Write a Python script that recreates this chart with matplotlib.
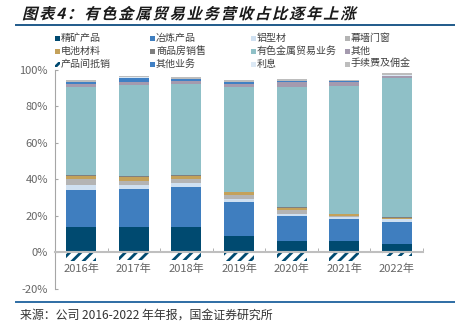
import matplotlib
matplotlib.use("Agg")
import matplotlib.pyplot as plt
import numpy as np
from matplotlib.patches import Rectangle, PathPatch
from matplotlib.lines import Line2D
from matplotlib.textpath import TextPath, text_to_path
from matplotlib.font_manager import FontProperties
from matplotlib.transforms import Affine2D

plt.rcParams["font.family"] = ["Noto Sans CJK SC", "DejaVu Sans"]
plt.rcParams["hatch.linewidth"] = 2.0

W, H = 456, 331

# data (% of revenue)
years = ["2016年", "2017年", "2018年", "2019年", "2020年", "2021年", "2022年"]
jingkuang = [13.7, 14.2, 14.2, 9.3, 6.4, 6.4, 4.7]        # 精矿产品
yelian = [20.8, 20.8, 21.5, 18.2, 13.8, 12.0, 12.2]       # 冶炼产品
lvxingcai = [2.5, 2.0, 2.4, 1.8, 0.9, 1.3, 1.3]           # 铝型材
muqiang = [3.3, 2.4, 2.2, 2.4, 2.2, 0.5, 0.3]             # 幕墙门窗
dianchi = [1.5, 2.2, 1.8, 1.5, 1.3, 0.9, 0.6]             # 电池材料
shangpinfang = [0.5, 0.3, 0.3, 0.2, 0.2, 0.1, 0.1]        # 商品房销售
maoyi = [48.2, 49.8, 50.0, 57.4, 65.8, 70.0, 76.3]        # 有色金属贸易业务
qita = [2.0, 1.5, 1.6, 1.8, 2.7, 2.0, 1.1]                # 其他
qita_yewu = [0.7, 2.5, 1.1, 0.7, 0.5, 0.5, 0.3]           # 其他业务
lixi = [0.3, 0.2, 0.2, 0.2, 0.2, 0.2, 0.2]                # 利息
shouxufei = [0.9, 0.9, 1.0, 0.8, 0.8, 0.8, 1.2]           # 手续费及佣金
dixiao = [-4.5, -4.0, -4.0, -4.5, -4.5, -4.5, -2.0]       # 产品间抵销

NAVY = "#004A70"
stack = [
    ("精矿产品", jingkuang, NAVY),
    ("冶炼产品", yelian, "#3F7EBF"),
    ("铝型材", lvxingcai, "#CFE0F1"),
    ("幕墙门窗", muqiang, "#B4B4B4"),
    ("电池材料", dianchi, "#C4A15A"),
    ("商品房销售", shangpinfang, "#7F7F7F"),
    ("有色金属贸易业务", maoyi, "#8FC0C7"),
    ("其他", qita, "#A49AAE"),
    ("其他业务", qita_yewu, "#4080C4"),
    ("利息", lixi, "#DCE9F5"),
    ("手续费及佣金", shouxufei, "#BDBDBD"),
]

legend_order = ["精矿产品", "冶炼产品", "铝型材", "幕墙门窗",
                "电池材料", "商品房销售", "有色金属贸易业务", "其他",
                "产品间抵销", "其他业务", "利息", "手续费及佣金"]

fig = plt.figure(figsize=(W / 100, H / 100), dpi=100)
ax = fig.add_axes([55 / W, 1 - 289 / H, (423 - 55) / W, (289 - 70) / H])

x = np.arange(len(years))
bw = 0.57
bottom = np.zeros(len(years))
for name, vals, col in stack:
    ax.bar(x, vals, bw, bottom=bottom, color=col, linewidth=0)
    bottom += np.array(vals)
ax.bar(x, dixiao, bw, color="white", edgecolor=NAVY, hatch="///", linewidth=0)

ax.set_xlim(-0.5, len(years) - 0.5)
ax.set_ylim(-20, 100)
ax.set_yticks(range(-20, 101, 20))
ax.set_yticklabels([f"{v}%" for v in range(-20, 101, 20)])
ax.set_xticks(x)
ax.set_xticklabels(years)
ax.set_xticks(np.arange(-0.5, len(years), 1.0), minor=True)
ax.spines["bottom"].set_position(("data", 0))
ax.spines["bottom"].set_color("#BFBFBF")
ax.spines["bottom"].set_linewidth(1.5)
ax.spines["left"].set_color("#A6A6A6")
ax.spines["left"].set_linewidth(0.8)
ax.spines["top"].set_visible(False)
ax.spines["right"].set_visible(False)
ax.tick_params(axis="x", which="major", length=0, pad=8, labelsize=8, labelcolor="#666666")
ax.tick_params(axis="x", which="minor", length=3, direction="in", color="#A6A6A6")
ax.tick_params(axis="y", length=2, direction="in", color="#A6A6A6", labelsize=8,
               labelcolor="#666666", pad=5)

# legend, drawn by hand to keep equal column spacing
colors = {name: col for name, _, col in stack}
col_x = [55, 150, 251, 345]
row_y = [38, 51, 64]
for i, name in enumerate(legend_order):
    cx, cy = col_x[i % 4], row_y[i // 4]
    s = 5
    if name == "产品间抵销":
        rect = Rectangle(((cx) / W, 1 - (cy + s / 2) / H), s / W, s / H,
                         transform=fig.transFigure, facecolor="white",
                         edgecolor=NAVY, hatch="///", linewidth=0)
    else:
        rect = Rectangle(((cx) / W, 1 - (cy + s / 2) / H), s / W, s / H,
                         transform=fig.transFigure, facecolor=colors[name], linewidth=0)
    fig.add_artist(rect)
    fig.text((cx + 6) / W, 1 - cy / H, name, fontsize=7.2, color="#404040",
             ha="left", va="center")

# title, slanted with spaced characters
title = "图表4：有色金属贸易业务营收占比逐年上涨"
fp = FontProperties(family="Noto Sans CJK SC", weight="bold")
size = 11
px = 22.0
base = H - 19
for ch in title:
    tp = TextPath((0, 0), ch, size=size, prop=fp)
    tr = Affine2D().skew_deg(14, 0).scale(1 / 72).translate(px / 100, base / 100) + fig.dpi_scale_trans
    fig.add_artist(PathPatch(tp, transform=tr, facecolor="#1A1A1A", edgecolor="none"))
    w, _, _ = text_to_path.get_text_width_height_descent(ch, FontProperties(family="Noto Sans CJK SC", weight="bold", size=size), ismath=False)
    px += w * 100 / 72 + 1.8

fig.add_artist(Line2D([16 / W, 1], [1 - 25 / H] * 2, transform=fig.transFigure,
                      color="#1F5A8A", linewidth=1.4))
fig.add_artist(Line2D([16 / W, 1], [1 - 302 / H] * 2, transform=fig.transFigure,
                      color="#2E6DA4", linewidth=1.4))
fig.text(20 / W, 1 - 315 / H, "来源：公司 2016-2022 年年报，国金证券研究所",
         fontsize=8.6, color="#333333", ha="left", va="center")

fig.savefig("out.png", dpi=100)
